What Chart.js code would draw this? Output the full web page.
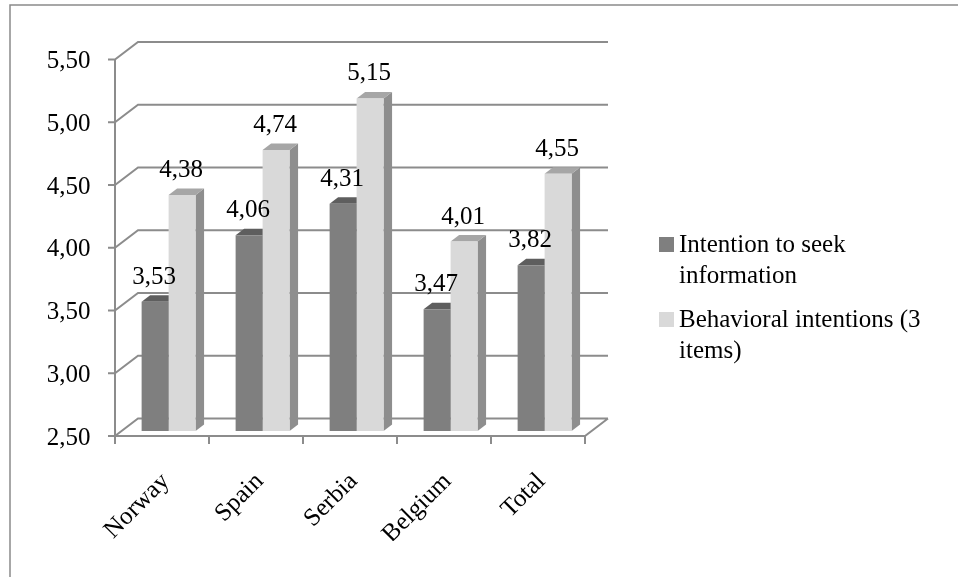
<!DOCTYPE html>
<html>
<head>
<meta charset="utf-8">
<title>Intentions by country</title>
<script src="https://cdn.jsdelivr.net/npm/chart.js@4.4.1/dist/chart.umd.min.js"></script>
<style>
  html, body { margin: 0; padding: 0; background: #ffffff; }
  canvas { display: block; }
</style>
</head>
<body>
<canvas id="chart" width="958" height="577"></canvas>
<script>
// Countries and the two mean scores per country
const categories = ['Norway', 'Spain', 'Serbia', 'Belgium', 'Total'];
const seekInformation = [3.53, 4.06, 4.31, 3.47, 3.82];
const behavioralIntentions = [4.38, 4.74, 5.15, 4.01, 4.55];
const seriesNames = ['Intention to seek information', 'Behavioral intentions (3 items)'];
const legendLines = [['Intention to seek', 'information'], ['Behavioral intentions (3', 'items)']];
const yMin = 2.5;
const yMax = 5.5;
const yStep = 0.5;

const FONT = '"Liberation Serif", "Times New Roman", serif';
const FONT_SIZE = 25;
const GRID = '#8c8c8c';
const frontColors = ['#7f7f7f', '#d9d9d9'];
const topColors = ['#5e5e5e', '#a6a6a6'];
const sideColors = ['#5a5a5a', '#8e8e8e'];

// Bars stand inside the box: the front plane is a little down-left of them,
// the back wall further up-right.
const FRONT = { dx: -6.6, dy: 5 };
const BACK = { dx: 16.4, dy: -12.5 };
const BAR_DEPTH = { dx: 8.5, dy: -6.5 };

const fmt = v => v.toFixed(2).replace('.', ',');

const box3d = {
  id: 'box3d',
  beforeDraw(chart) {
    const ctx = chart.ctx;
    ctx.save();
    ctx.fillStyle = '#ffffff';
    ctx.fillRect(0, 0, chart.width, chart.height);
    // outer frame of the chart object
    ctx.strokeStyle = '#8a8a8a';
    ctx.lineWidth = 1.5;
    ctx.beginPath();
    ctx.moveTo(10, chart.height + 2);
    ctx.lineTo(10, 5);
    ctx.lineTo(chart.width + 2, 5);
    ctx.stroke();
    ctx.restore();
  },
  beforeDatasetsDraw(chart) {
    const { ctx, chartArea: a, scales: { x, y } } = chart;
    const n = categories.length;
    const half = (x.getPixelForValue(1) - x.getPixelForValue(0)) / 2;
    ctx.save();
    ctx.strokeStyle = GRID;
    ctx.lineWidth = 2;
    ctx.lineJoin = 'miter';
    ctx.beginPath();
    for (let v = yMin; v <= yMax + 1e-9; v += yStep) {
      const py = y.getPixelForValue(v);
      // side wall diagonal and back wall gridline
      ctx.moveTo(a.left + FRONT.dx, py + FRONT.dy);
      ctx.lineTo(a.left + BACK.dx, py + BACK.dy);
      ctx.lineTo(a.right + BACK.dx, py + BACK.dy);
      // tick mark on the value axis
      ctx.moveTo(a.left + FRONT.dx - 7, py + FRONT.dy);
      ctx.lineTo(a.left + FRONT.dx, py + FRONT.dy);
    }
    const top = y.getPixelForValue(yMax);
    const base = y.getPixelForValue(yMin);
    // value axis
    ctx.moveTo(a.left + FRONT.dx, top + FRONT.dy);
    ctx.lineTo(a.left + FRONT.dx, base + FRONT.dy);
    // floor front edge and right edge
    ctx.moveTo(a.left + FRONT.dx, base + FRONT.dy);
    ctx.lineTo(a.right + FRONT.dx, base + FRONT.dy);
    ctx.lineTo(a.right + BACK.dx, base + BACK.dy);
    // category ticks
    for (let i = 0; i <= n; i++) {
      const cx = x.getPixelForValue(i) - half + FRONT.dx;
      ctx.moveTo(cx, base + FRONT.dy);
      ctx.lineTo(cx, base + FRONT.dy + 8);
    }
    ctx.stroke();

    // top and side faces of the bars (front faces are drawn by the chart)
    chart.data.datasets.forEach((ds, di) => {
      const meta = chart.getDatasetMeta(di);
      meta.data.forEach(bar => {
        const l = bar.x - bar.width / 2;
        const r = bar.x + bar.width / 2;
        const t = bar.y;
        const b = Math.min(bar.base, base);
        ctx.fillStyle = sideColors[di];
        ctx.beginPath();
        ctx.moveTo(r, t);
        ctx.lineTo(r + BAR_DEPTH.dx, t + BAR_DEPTH.dy);
        ctx.lineTo(r + BAR_DEPTH.dx, b + BAR_DEPTH.dy);
        ctx.lineTo(r, b);
        ctx.closePath();
        ctx.fill();
        ctx.fillStyle = topColors[di];
        ctx.beginPath();
        ctx.moveTo(l, t);
        ctx.lineTo(r, t);
        ctx.lineTo(r + BAR_DEPTH.dx, t + BAR_DEPTH.dy);
        ctx.lineTo(l + BAR_DEPTH.dx, t + BAR_DEPTH.dy);
        ctx.closePath();
        ctx.fill();
      });
    });
    ctx.restore();
  },
  afterDatasetsDraw(chart) {
    const { ctx } = chart;
    ctx.save();
    ctx.font = FONT_SIZE + 'px ' + FONT;
    ctx.fillStyle = '#000000';
    ctx.textAlign = 'center';
    ctx.textBaseline = 'middle';
    chart.data.datasets.forEach((ds, di) => {
      chart.getDatasetMeta(di).data.forEach((bar, i) => {
        ctx.fillText(fmt(ds.data[i]), bar.x - 1, bar.y - 24.5);
      });
    });

    // legend with wrapped entries
    const bx = 659, tx = 679;
    const entryTop = [237, 312];
    ctx.textAlign = 'left';
    ctx.textBaseline = 'alphabetic';
    chart.data.datasets.forEach((ds, di) => {
      ctx.fillStyle = ds.backgroundColor;
      ctx.fillRect(bx, entryTop[di], 15, 15);
      ctx.fillStyle = '#000000';
      legendLines[di].forEach((line, k) => {
        ctx.fillText(line, tx, entryTop[di] + 14.5 + k * 31);
      });
    });
    ctx.restore();
  }
};

new Chart(document.getElementById('chart'), {
  type: 'bar',
  data: {
    labels: categories,
    datasets: [
      { label: seriesNames[0], data: seekInformation, backgroundColor: frontColors[0] },
      { label: seriesNames[1], data: behavioralIntentions, backgroundColor: frontColors[1] }
    ]
  },
  options: {
    responsive: false,
    animation: false,
    events: [],
    categoryPercentage: 0.574,
    barPercentage: 1.0,
    layout: { padding: { left: 0, top: 54.5, right: 366.4, bottom: 36 } },
    plugins: {
      legend: { display: false },
      tooltip: { enabled: false }
    },
    scales: {
      y: {
        min: yMin,
        max: yMax,
        grid: { display: false, drawTicks: false },
        border: { display: false },
        ticks: {
          stepSize: yStep,
          color: '#000000',
          font: { family: FONT, size: FONT_SIZE },
          padding: 31,
          labelOffset: 7,
          callback: v => fmt(v)
        },
        afterFit(scale) { scale.width = 121.6; }
      },
      x: {
        grid: { display: false, drawTicks: false },
        border: { display: false },
        ticks: {
          color: '#000000',
          font: { family: FONT, size: FONT_SIZE },
          minRotation: 45,
          maxRotation: 45,
          autoSkip: false,
          padding: 36,
          labelOffset: -3
        },
        afterFit(scale) { scale.height = 110; }
      }
    }
  },
  plugins: [box3d]
});
</script>
</body>
</html>
